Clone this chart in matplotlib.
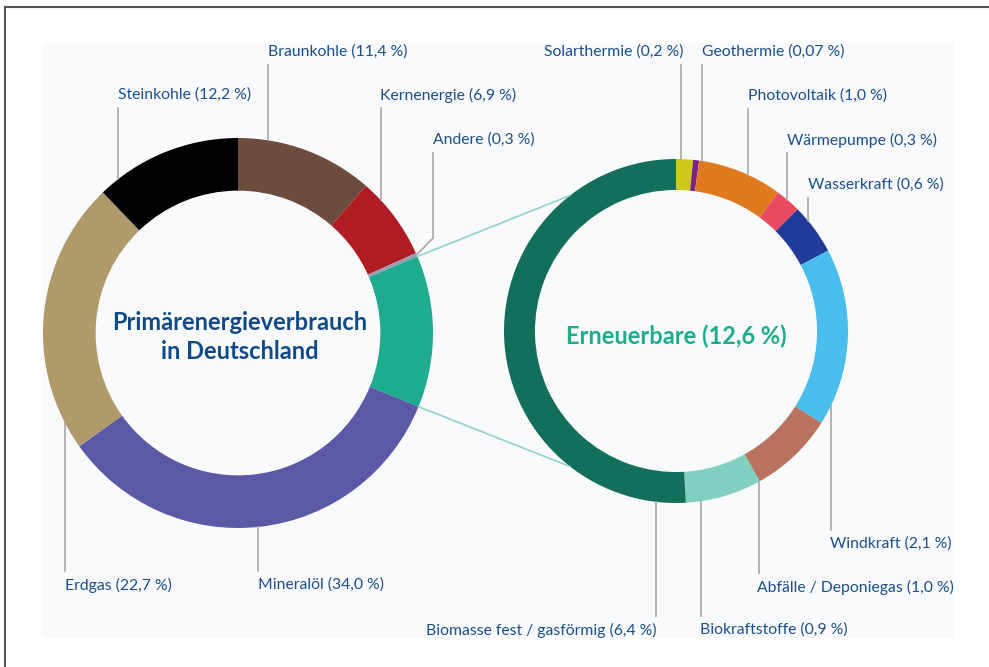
import numpy as np
import matplotlib.pyplot as plt

# left ring: primary energy, clockwise from 12 o'clock
primaer_namen = ["Braunkohle", "Kernenergie", "Andere", "Erneuerbare", "Mineralöl", "Erdgas", "Steinkohle"]
primaer_werte = [11.4, 6.9, 0.3, 12.6, 34.0, 22.7, 12.2]
primaer_texte = ["11,4", "6,9", "0,3", "12,6", "34,0", "22,7", "12,2"]
primaer_farben = ["#6b4c3f", "#b01c24", "#9a9db2", "#1fab8e", "#5b58a6", "#b09a6a", "#000000"]

# right ring: renewables, clockwise from 12 o'clock
erneuer_namen = ["Solarthermie", "Geothermie", "Photovoltaik", "Wärmepumpe", "Wasserkraft",
                 "Windkraft", "Abfälle / Deponiegas", "Biokraftstoffe", "Biomasse fest / gasförmig"]
erneuer_werte = [0.2, 0.07, 1.0, 0.3, 0.6, 2.1, 1.0, 0.9, 6.4]
erneuer_texte = ["0,2", "0,07", "1,0", "0,3", "0,6", "2,1", "1,0", "0,9", "6,4"]
erneuer_farben = ["#cfc91e", "#7b2383", "#e07a1f", "#ea4a60", "#203c98",
                  "#49bdec", "#b8725d", "#80cfc0", "#136e5c"]

W, H = 989, 667
plt.rcParams['font.family'] = ['Lato', 'DejaVu Sans']
fig = plt.figure(figsize=(W / 100, H / 100), dpi=100)
ax = fig.add_axes([0, 0, 1, 1])

def yy(y):
    # picture rows -> data coords (y up)
    return H - y

txtcol = "#1b4f8c"
linecol = "#a9a6a6"
fs = 11.3

# panel + frame
ax.add_patch(plt.Rectangle((43, yy(637)), 910, 594, color="#f9fafb", zorder=0))
ax.plot([5, 5], [yy(667), yy(7)], color="#555555", lw=1.5)
ax.plot([5, 989], [yy(7), yy(7)], color="#555555", lw=1.5)

cL, rL = (238, yy(333)), 195
cR, rR = (676, yy(331)), 172

ax.pie(primaer_werte, colors=primaer_farben, startangle=90, counterclock=False,
       center=cL, radius=rL, wedgeprops=dict(width=rL * 0.27, linewidth=0), frame=True)
ax.pie(erneuer_werte, colors=erneuer_farben, startangle=90, counterclock=False,
       center=cR, radius=rR, wedgeprops=dict(width=rR * 0.18, linewidth=0), frame=True)

# connector lines from the Erneuerbare wedge to the right ring
tot = sum(primaer_werte)
a1 = np.radians(90 - 360 * sum(primaer_werte[:3]) / tot)
a2 = np.radians(90 - 360 * sum(primaer_werte[:4]) / tot)
for a, b in [(a1, np.radians(128)), (a2, np.radians(-128))]:
    ax.plot([cL[0] + rL * np.cos(a), cR[0] + rR * np.cos(b)],
            [cL[1] + rL * np.sin(a), cR[1] + rR * np.sin(b)], color="#8fd3cc", lw=1.2, zorder=1)

def ring_y(c, r, x, oben):
    d = np.sqrt(r ** 2 - (x - c[0]) ** 2)
    return c[1] + d if oben else c[1] - d

# label layout: (text x, text y, align, line x, oben)
lay_L = [(268, 52, "left", 268, True), (380, 95, "left", 381, True), None,
         None, (258, 585, "left", 258, False), (65, 585, "left", 65, False), (118, 95, "left", 118, True)]
lay_R = [(683, 52, "right", 681, True), (702, 52, "left", 702, True), (748, 96, "left", 748, True),
         (787, 140, "left", 787, True), (808, 185, "left", 808, True), (830, 544, "left", 831, False),
         (757, 587, "left", 759, False), (700, 630, "left", 701, False), (657, 630, "right", 656, False)]

def beschriften(namen, texte, lay, c, r):
    for n, t, l in zip(namen, texte, lay):
        if l is None:
            continue
        tx, ty, ha, lx, oben = l
        ax.text(tx, yy(ty), f"{n} ({t} %)", ha=ha, va="center", fontsize=fs, color=txtcol)
        if oben:
            ax.plot([lx, lx], [yy(ty + 13), ring_y(c, r, lx, True)], color=linecol, lw=1.2, zorder=1)
        else:
            ax.plot([lx, lx], [yy(ty - 14), ring_y(c, r, lx, False)], color=linecol, lw=1.2, zorder=1)

beschriften(primaer_namen, primaer_texte, lay_L, cL, rL)
beschriften(erneuer_namen, erneuer_texte, lay_R, cR, rR)

# Andere has a kinked leader
am = np.radians(90 - 360 * (sum(primaer_werte[:2]) + primaer_werte[2] / 2) / tot)
ax.text(433, yy(140), f"{primaer_namen[2]} ({primaer_texte[2]} %)", ha="left", va="center",
        fontsize=fs, color=txtcol)
ax.plot([433, 433, cL[0] + rL * np.cos(am)], [yy(153), yy(238), cL[1] + rL * np.sin(am)],
        color=linecol, lw=1.2, zorder=1)

ax.text(240, yy(337), "Primärenergieverbrauch\nin Deutschland", ha="center", va="center",
        fontsize=17, fontweight="bold", color="#0f4a86", linespacing=1.3)
ax.text(676, yy(336), "Erneuerbare (12,6 %)", ha="center", va="center",
        fontsize=17, fontweight="bold", color="#1fab8e")

ax.set_xlim(0, W)
ax.set_ylim(0, H)
ax.set_aspect("equal")
ax.axis("off")
fig.savefig("out.png", dpi=100, facecolor="white")
